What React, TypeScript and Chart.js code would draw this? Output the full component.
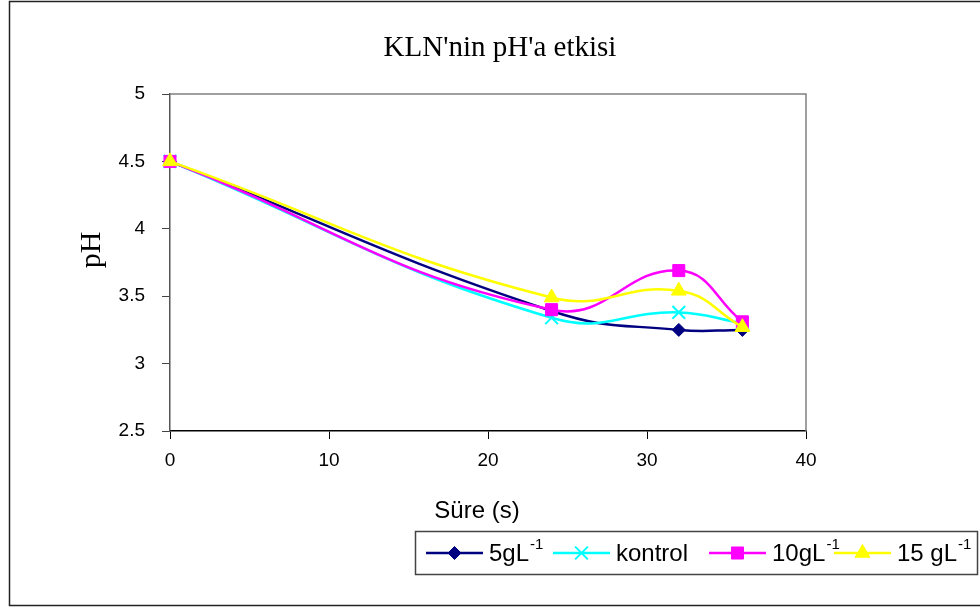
import React, { useEffect, useRef } from 'react';
import { Chart, registerables } from 'chart.js';
import { drawPoint } from 'chart.js/helpers';

Chart.register(...registerables);

// Sampling times (hours) and measured pH for each treatment
const times = [0, 24, 32, 36];
const ph5 = [4.5, 3.39, 3.25, 3.25];
const phKontrol = [4.5, 3.34, 3.38, 3.3];
const ph10 = [4.5, 3.4, 3.69, 3.31];
const ph15 = [4.5, 3.49, 3.54, 3.27];

const seriesNames = ['5gL', 'kontrol', '10gL', '15 gL'];
const seriesUnitSup = ['-1', '', '-1', '-1'];
const seriesColors = ['#000080', '#00FFFF', '#FF00FF', '#FFFF00'];
const seriesMarkers = ['rectRot', 'crossRot', 'rect', 'triangle'];
const markerRadius = [6.5, 9, 8.5, 8.5];

const xTicks = { min: 0, max: 40, step: 10 };
const yTicks = { min: 2.5, max: 5, step: 0.5 };

const chartTitle = "KLN'nin pH'a etkisi";
const xTitle = 'Süre (s)';
const yTitle = 'pH';

const SANS = "'Liberation Sans', Arial, sans-serif";
const SERIF = "'Liberation Serif', 'Times New Roman', serif";

const W = 980;
const H = 608;

// legend layout
const legendBox = { x: 415.5, y: 531.5, w: 562, h: 43 };
const legendLineStarts = [426, 553, 709, 834];
const legendLineLen = 57;

const allSeries = [ph5, phKontrol, ph10, ph15];

const decorPlugin = {
  id: 'decor',
  beforeDraw(chart: any) {
    const ctx = chart.ctx;
    ctx.save();
    ctx.fillStyle = '#fff';
    ctx.fillRect(0, 0, W, H);
    ctx.strokeStyle = '#222';
    ctx.lineWidth = 1.5;
    ctx.strokeRect(9.5, 1.5, W + 10, 604);
    ctx.restore();
  },
  afterDraw(chart: any) {
    const ctx = chart.ctx;
    const a = chart.chartArea;
    ctx.save();
    // top and right frame of plot area
    ctx.strokeStyle = '#808080';
    ctx.lineWidth = 1.5;
    ctx.beginPath();
    ctx.moveTo(a.left, a.top);
    ctx.lineTo(a.right, a.top);
    ctx.lineTo(a.right, a.bottom);
    ctx.stroke();

    // chart title
    ctx.fillStyle = '#000';
    ctx.textAlign = 'center';
    ctx.textBaseline = 'alphabetic';
    ctx.font = `29px ${SERIF}`;
    ctx.fillText(chartTitle, 500, 56);

    // y axis title
    ctx.save();
    ctx.translate(100, 250);
    ctx.rotate(-Math.PI / 2);
    ctx.font = `30px ${SERIF}`;
    ctx.textBaseline = 'alphabetic';
    ctx.fillText(yTitle, 0, 0);
    ctx.restore();

    // x axis title
    ctx.font = `24px ${SANS}`;
    ctx.textBaseline = 'middle';
    ctx.fillText(xTitle, 477, 511);

    // legend
    ctx.strokeStyle = '#444';
    ctx.lineWidth = 1.5;
    ctx.strokeRect(legendBox.x, legendBox.y, legendBox.w, legendBox.h);
    const ly = 553;
    seriesNames.forEach((name, i) => {
      const x0 = legendLineStarts[i];
      ctx.strokeStyle = seriesColors[i];
      ctx.lineWidth = 2.5;
      ctx.beginPath();
      ctx.moveTo(x0, ly);
      ctx.lineTo(x0 + legendLineLen, ly);
      ctx.stroke();
      ctx.fillStyle = seriesColors[i];
      ctx.strokeStyle = seriesColors[i];
      ctx.lineWidth = seriesMarkers[i] === 'crossRot' ? 2 : 1;
      drawPoint(
        ctx,
        { pointStyle: seriesMarkers[i], radius: markerRadius[i], rotation: 0, borderWidth: ctx.lineWidth },
        x0 + legendLineLen / 2,
        ly
      );
      ctx.fillStyle = '#000';
      ctx.textAlign = 'left';
      ctx.textBaseline = 'alphabetic';
      ctx.font = `24px ${SANS}`;
      const tx = x0 + legendLineLen + 6;
      ctx.fillText(name, tx, 561);
      if (seriesUnitSup[i]) {
        const w = ctx.measureText(name).width;
        ctx.font = `15px ${SANS}`;
        ctx.fillText(seriesUnitSup[i], tx + w + 1, 549);
      }
    });
    ctx.restore();
  },
};

export default function App() {
  const ref = useRef<HTMLCanvasElement | null>(null);

  useEffect(() => {
    if (!ref.current) return;
    const datasets = allSeries.map((vals, i) => ({
      label: seriesNames[i],
      data: vals.map((v, j) => ({ x: times[j], y: v })),
      borderColor: seriesColors[i],
      backgroundColor: seriesColors[i],
      borderWidth: 2.5,
      pointStyle: seriesMarkers[i],
      pointRadius: markerRadius[i],
      pointBorderWidth: seriesMarkers[i] === 'crossRot' ? 2 : 1,
      pointBorderColor: seriesColors[i],
      pointBackgroundColor: seriesColors[i],
      tension: 0.45,
      clip: false as any,
      order: allSeries.length - i,
    }));

    const tickFmt = (v: any) => String(Number(v));

    const chart = new Chart(ref.current, {
      type: 'line',
      data: { datasets },
      options: {
        animation: false,
        responsive: false,
        devicePixelRatio: 1,
        layout: { padding: { left: 0, right: W - 806, top: 94, bottom: 0 } },
        plugins: {
          legend: { display: false },
          title: { display: false },
          tooltip: { enabled: false },
        },
        scales: {
          x: {
            type: 'linear',
            min: xTicks.min,
            max: xTicks.max,
            ticks: {
              stepSize: xTicks.step,
              color: '#000',
              font: { family: SANS, size: 19 },
              padding: 10,
              callback: tickFmt,
            },
            grid: { drawOnChartArea: false, drawTicks: true, tickLength: 8, color: '#000' },
            border: { color: '#000', width: 1.5 },
            afterFit(scale: any) {
              scale.height = H - 431;
            },
          },
          y: {
            type: 'linear',
            min: yTicks.min,
            max: yTicks.max,
            ticks: {
              stepSize: yTicks.step,
              color: '#000',
              font: { family: SANS, size: 19 },
              padding: 17,
              callback: tickFmt,
            },
            grid: { drawOnChartArea: false, drawTicks: true, tickLength: 8, color: '#444' },
            border: { color: '#555', width: 1.5 },
            afterFit(scale: any) {
              scale.width = 170;
            },
          },
        },
      },
      plugins: [decorPlugin],
    });
    return () => chart.destroy();
  }, []);

  return (
    <div style={{ position: 'fixed', left: 0, top: 0, width: W, height: H, background: '#fff' }}>
      <canvas ref={ref} width={W} height={H} style={{ width: W, height: H, display: 'block' }} />
    </div>
  );
}
